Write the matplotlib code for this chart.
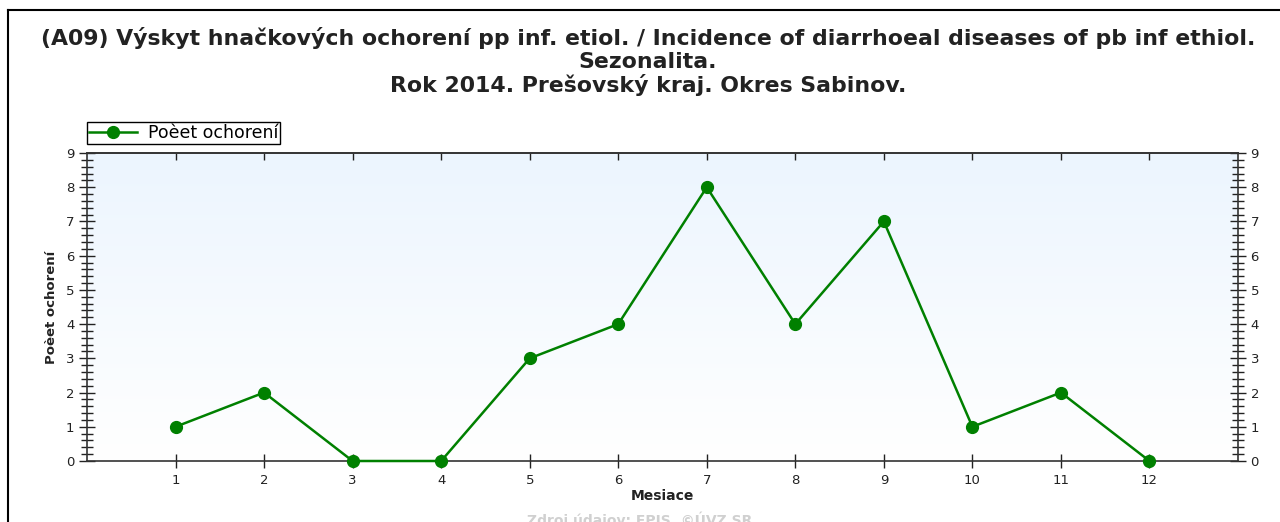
import matplotlib
matplotlib.use('Agg')
import matplotlib.pyplot as plt
from matplotlib.ticker import MultipleLocator
import numpy as np

plt.rcParams['font.family'] = ['DejaVu Sans']

months = [1, 2, 3, 4, 5, 6, 7, 8, 9, 10, 11, 12]
cases = [1, 2, 0, 0, 3, 4, 8, 4, 7, 1, 2, 0]
month_labels = [str(m) for m in months]

fig = plt.figure(figsize=(12.8, 5.22), dpi=100)
ax = fig.add_axes([87 / 1280, 1 - 461 / 522, (1238 - 87) / 1280, (461 - 153) / 522])

# light blue gradient background, white at the bottom
grad = np.linspace(0, 1, 256).reshape(-1, 1)
cmap = matplotlib.colors.LinearSegmentedColormap.from_list('bg', ['#ffffff', '#ecf5fe'])
ax.imshow(grad, extent=[0, 13, 0, 9], origin='lower', aspect='auto', cmap=cmap, zorder=0)

ax.plot(months, cases, color='#008000', lw=1.8, marker='o', ms=8.5,
        label='Poèet ochorení', zorder=3, clip_on=False)

ax.set_xlim(0, 13)
ax.set_ylim(0, 9)
ax.set_xticks(months)
ax.set_xticklabels(month_labels)
ax.yaxis.set_major_locator(MultipleLocator(1))
ax.yaxis.set_minor_locator(MultipleLocator(0.2))
ax.tick_params(axis='x', direction='inout', length=10, width=1, labelsize=9.5, pad=4,
               colors='#222222')
ax.tick_params(axis='y', which='major', direction='inout', length=12, width=1,
               labelsize=9.5, right=True, labelright=True, pad=3, colors='#222222')
ax.tick_params(axis='y', which='minor', direction='inout', length=8, width=1, right=True,
               colors='#222222')
top = ax.secondary_xaxis('top')
top.set_xticks(months)
top.tick_params(direction='in', length=5, width=1, labeltop=False, colors='#222222')
for s in list(ax.spines.values()) + [top.spines['top']]:
    s.set_color('#333333')
    s.set_linewidth(1.2)

ax.set_xlabel('Mesiace', fontsize=10, fontweight='bold', labelpad=2, color='#222222')
ax.set_ylabel('Poèet ochorení', fontsize=9.5, fontweight='bold', labelpad=6, color='#222222')

ax.legend(loc='lower left', bbox_to_anchor=(0, 1.03), frameon=True, fancybox=False,
          edgecolor='black', fontsize=12.5, borderpad=0.1, handlelength=2.8,
          handletextpad=0.6, borderaxespad=0, framealpha=1, labelspacing=0)
ax.get_legend().get_frame().set_linewidth(1.0)

title_lines = ['(A09) Výskyt hnačkových ochorení pp inf. etiol. / Incidence of diarrhoeal diseases of pb inf ethiol.',
               'Sezonalita.',
               'Rok 2014. Prešovský kraj. Okres Sabinov.']
for y, line in zip([38, 62, 85], title_lines):
    fig.text(0.5 + 8 / 1280, 1 - y / 522, line, ha='center', va='center',
             fontsize=15.8, fontweight='bold', color='#222222')
fig.text(0.5, 1 - 522 / 522 + 0.004, 'Zdroj údajov: EPIS, ©ÚVZ SR', ha='center', va='center',
         fontsize=10, fontweight='bold', color='#d0d0d0')

# outer frame
fig.add_artist(plt.Line2D([8 / 1280, 8 / 1280], [0, 1 - 10 / 522], color='black', lw=1.5))
fig.add_artist(plt.Line2D([8 / 1280, 1], [1 - 10 / 522, 1 - 10 / 522], color='black', lw=1.5))

fig.savefig('out.png', dpi=100)
